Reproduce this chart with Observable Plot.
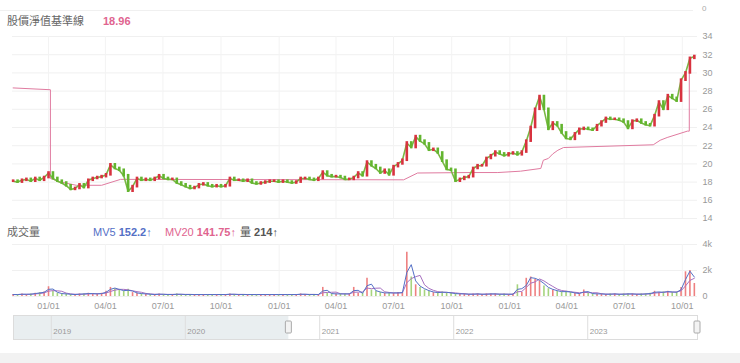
<!DOCTYPE html>
<html><head><meta charset="utf-8">
<script src="https://cdn.jsdelivr.net/npm/d3@7"></script>
<script src="https://cdn.jsdelivr.net/npm/@observablehq/plot@0.6"></script>
<style>
body{margin:0;background:#fff;font-family:"Liberation Sans","Noto Sans CJK TC",sans-serif;}
#wrap{position:relative;width:740px;height:363px;overflow:hidden;background:#fff;}
.abs{position:absolute;white-space:nowrap;}
.lbl{font-size:11px;line-height:14px;color:#666;}
.b{font-weight:bold;}
.arr{font-weight:normal;}
</style></head><body>
<div id="wrap">
  <div class="abs" style="left:0;top:10px;width:693px;border-top:1px solid #f0f0f0"></div>
  <div class="abs" id="zero" style="left:702px;top:4px;font-size:8px;color:#aaa"></div>
  <div class="abs lbl" id="baseName" style="left:7px;top:14px"></div>
  <div class="abs lbl b" id="baseVal" style="left:103px;top:14px;color:#e0648f"></div>
  <div class="abs lbl" id="volName" style="left:7px;top:225px"></div>
  <div class="abs lbl" id="mv5" style="left:93px;top:225px;color:#5470c6"></div>
  <div class="abs lbl" id="mv20" style="left:165px;top:225px;color:#e0648f"></div>
  <div class="abs lbl" id="vol" style="left:240px;top:225px;color:#555"></div>
  <div class="abs" id="price" style="left:0;top:0"></div>
  <div class="abs" id="volume" style="left:0;top:236px"></div>
  <div class="abs" id="nav" style="left:0;top:313px"></div>
  <div class="abs" style="left:0;top:353px;width:740px;height:10px;background:#f2f2f2"></div>
</div>
<script>
// ---------- data ----------
const firstWeek = "2020-11-06";
const viewStart = "2020-11-05";
const viewEnd = "2023-10-25";
// weekly closing prices
const closes = [
  18.1,18.0,18.2,18.3,18.1,18.4,18.2,18.5,19.0,18.4,
  18.1,17.9,17.6,17.2,17.3,17.7,17.4,18.2,18.4,18.5,
  18.6,18.8,19.9,19.5,19.3,18.7,17.0,17.5,18.4,18.2,
  18.3,18.2,18.4,18.7,18.4,18.3,18.3,17.9,17.7,17.5,
  17.3,17.4,17.7,17.8,17.6,17.5,17.6,17.5,17.6,18.4,
  18.2,18.2,18.1,18.2,17.9,17.8,17.9,18.0,18.1,18.1,
  18.0,18.1,18.0,17.9,18.0,18.4,18.4,18.3,18.2,18.4,
  19.1,18.7,18.6,18.6,18.5,18.3,18.3,18.5,19.0,18.7,
  20.2,19.8,19.5,19.0,19.3,18.8,19.7,20.0,20.4,22.3,
  21.8,23.0,22.5,22.2,21.5,21.6,21.2,20.3,19.4,19.3,
  18.1,18.3,18.5,18.6,19.5,19.8,19.8,20.6,20.9,21.3,
  21.1,20.9,21.1,21.2,21.0,21.3,22.5,24.0,26.0,27.4,
  26.0,23.8,24.5,24.2,23.4,22.8,22.7,23.3,23.8,23.9,
  23.8,23.7,24.2,24.6,25.0,24.9,24.9,24.8,24.6,23.9,
  24.7,24.8,24.5,24.3,24.2,25.3,26.8,26.0,27.5,27.2,
  26.9,29.2,30.0,31.6,31.8
];
// weekly volume (lots)
const volumes = [
  150,150,200,150,200,250,300,350,750,400,
  250,200,200,150,150,200,200,250,200,200,
  250,400,700,600,500,400,550,300,250,200,
  200,150,150,200,150,150,150,200,150,150,
  150,150,150,150,150,150,150,150,150,200,
  150,150,150,150,150,150,150,150,150,150,
  150,150,150,150,150,200,150,150,150,150,
  700,250,200,200,200,200,200,700,250,250,
  1400,500,400,300,250,300,250,300,300,3400,
  1500,900,700,500,400,300,300,350,300,250,
  200,200,200,150,200,200,150,200,200,200,
  150,200,150,200,900,300,1400,1500,1300,1200,
  800,600,500,400,350,400,300,250,200,500,
  250,200,200,200,150,200,200,150,200,200,
  200,150,200,200,250,400,300,350,400,300,
  350,700,1900,2000,1000
];
// 股價淨值基準線
const baseDates = ["2020-11-06","2021-01-04","2021-01-04","2021-01-21","2021-02-14","2021-03-26","2021-04-25",
  "2022-07-17","2022-08-08","2022-10-31","2022-12-13","2023-01-18","2023-02-19","2023-02-23","2023-03-03",
  "2023-03-10","2023-03-18","2023-03-27","2023-08-16","2023-08-27","2023-09-07","2023-10-09","2023-10-12","2023-10-12"];
const baseValues = [28.35,28.15,18.4,18.0,17.65,17.65,18.3,
  18.25,19.0,19.05,19.05,19.2,19.5,20.4,20.6,
  21.1,21.5,21.8,22.1,22.6,22.9,23.6,23.6,30.2];

const priceTicks = [14,16,18,20,22,24,26,28,30,32,34];
const volTicks = [0,2000,4000];
const volTickLabels = ["0","2k","4k"];
const navDomain = ["2018-09-20","2023-10-27"];
const navYearDates = ["2019-01-01","2020-01-01","2021-01-01","2022-01-01","2023-01-01"];
const navYears = ["2019","2020","2021","2022","2023"];
const selection = ["2020-10-09","2023-10-27"];

const baseName = "股價淨值基準線", baseLast = "18.96";
const volName = "成交量";
const mv5Label = "MV5", mv5Value = "152.2";
const mv20Label = "MV20", mv20Value = "141.75";
const volLabel = "量", volValue = "214";
const topZero = "0";

// ---------- build ----------
const RED = "#d8323f", GREEN = "#63b52f", VRED = "#ee8080", VGREEN = "#a6d47e";
const parse = d3.utcParse("%Y-%m-%d");
const weekDates = closes.map((_, i) => d3.utcDay.offset(parse(firstWeek), 7 * i));
const candles = closes.map((c, i) => ({date: weekDates[i], open: i ? closes[i - 1] : c, close: c}));
const vols = volumes.map((v, i) => ({date: weekDates[i], vol: v, up: candles[i].close >= candles[i].open}));
const base = baseDates.map((d, i) => ({date: parse(d), value: baseValues[i]}));
const xDomain = [parse(viewStart), parse(viewEnd)];
const quarterTicks = d3.utcMonth.every(3).range(xDomain[0], xDomain[1]);
const font = "'Liberation Sans', sans-serif";

document.getElementById("zero").textContent = topZero;
document.getElementById("baseName").textContent = baseName;
document.getElementById("baseVal").textContent = baseLast;
document.getElementById("volName").textContent = volName;
document.getElementById("mv5").innerHTML = `${mv5Label} <span class="b">${mv5Value}</span><span class="arr">↑</span>`;
document.getElementById("mv20").innerHTML = `${mv20Label} <span class="b">${mv20Value}</span><span class="arr">↑</span>`;
document.getElementById("vol").innerHTML = `${volLabel} <span class="b">${volValue}</span><span class="arr">↑</span>`;

const price = Plot.plot({
  width: 740, height: 222, marginLeft: 12, marginRight: 43, marginTop: 36, marginBottom: 4,
  style: {fontSize: "9px", color: "#999", background: "transparent", fontFamily: font},
  x: {type: "utc", domain: xDomain, axis: null},
  y: {domain: [14, 34], axis: "right", ticks: priceTicks, tickSize: 0, tickPadding: 5, label: null},
  marks: [
    Plot.ruleY(priceTicks, {stroke: "#f0f0f0"}),
    Plot.ruleX(quarterTicks, {stroke: "#f3f3f3"}),
    Plot.line(base, {x: "date", y: "value", stroke: "#e07ba0", strokeWidth: 1}),
    Plot.line(candles, {x: "date", y: "close", stroke: "#7ab845", strokeWidth: 1.6}),
    Plot.ruleX(candles.filter(d => d.close < d.open), {x: "date", y1: "open", y2: "close", stroke: GREEN, strokeWidth: 2.6, strokeLinecap: "square"}),
    Plot.ruleX(candles.filter(d => d.close >= d.open), {x: "date", y1: "open", y2: "close", stroke: RED, strokeWidth: 2.6, strokeLinecap: "square"})
  ]
});
document.getElementById("price").append(price);

const volume = Plot.plot({
  width: 740, height: 76, marginLeft: 12, marginRight: 43, marginTop: 8, marginBottom: 16,
  style: {fontSize: "9px", color: "#999", background: "transparent", fontFamily: font},
  x: {type: "utc", domain: xDomain, ticks: quarterTicks, tickFormat: d3.utcFormat("%m/%d"), tickSize: 0, tickPadding: 6, label: null},
  y: {domain: [0, 4000], axis: "right", ticks: volTicks, tickFormat: d => volTickLabels[volTicks.indexOf(d)], tickSize: 0, tickPadding: 5, label: null},
  marks: [
    Plot.ruleY(volTicks, {stroke: "#f0f0f0"}),
    Plot.ruleX(quarterTicks, {stroke: "#f3f3f3"}),
    Plot.ruleX(vols.filter(d => d.up), {x: "date", y1: 0, y2: "vol", stroke: VRED, strokeWidth: 1.6}),
    Plot.ruleX(vols.filter(d => !d.up), {x: "date", y1: 0, y2: "vol", stroke: VGREEN, strokeWidth: 1.6}),
    Plot.lineY(vols, Plot.windowY({k: 4, anchor: "end"}, {x: "date", y: "vol", stroke: "#a770c0", strokeWidth: 1})),
    Plot.lineY(vols, Plot.windowY({k: 2, anchor: "end"}, {x: "date", y: "vol", stroke: "#5470c6", strokeWidth: 1}))
  ]
});
document.getElementById("volume").append(volume);

const navYearD = navYearDates.map(parse);
const nav = Plot.plot({
  width: 740, height: 30, marginLeft: 13, marginRight: 43, marginTop: 2, marginBottom: 4,
  style: {fontSize: "8px", color: "#aaa", background: "transparent", fontFamily: font},
  x: {type: "utc", domain: navDomain.map(parse), axis: null},
  y: {domain: [0, 1], axis: null},
  marks: [
    Plot.rect([selection], {x1: () => parse(navDomain[0]), x2: d => parse(d[0]), fill: "#e9eef0"}),
    Plot.ruleX(navYearD, {stroke: "#dedede"}),
    Plot.frame({stroke: "#dcdcdc"}),
    Plot.text(navYearD, {x: d => d, text: (d, i) => navYears[i], frameAnchor: "bottom", textAnchor: "start", dx: 2, dy: -6, fill: "#999"}),
    Plot.rect(selection.map(parse), {x1: d => d, x2: d => d, insetLeft: -3, insetRight: -3, insetTop: 6, insetBottom: 6, fill: "#f3f3f3", stroke: "#aaa", rx: 1})
  ]
});
document.getElementById("nav").append(nav);
</script>
</body></html>
